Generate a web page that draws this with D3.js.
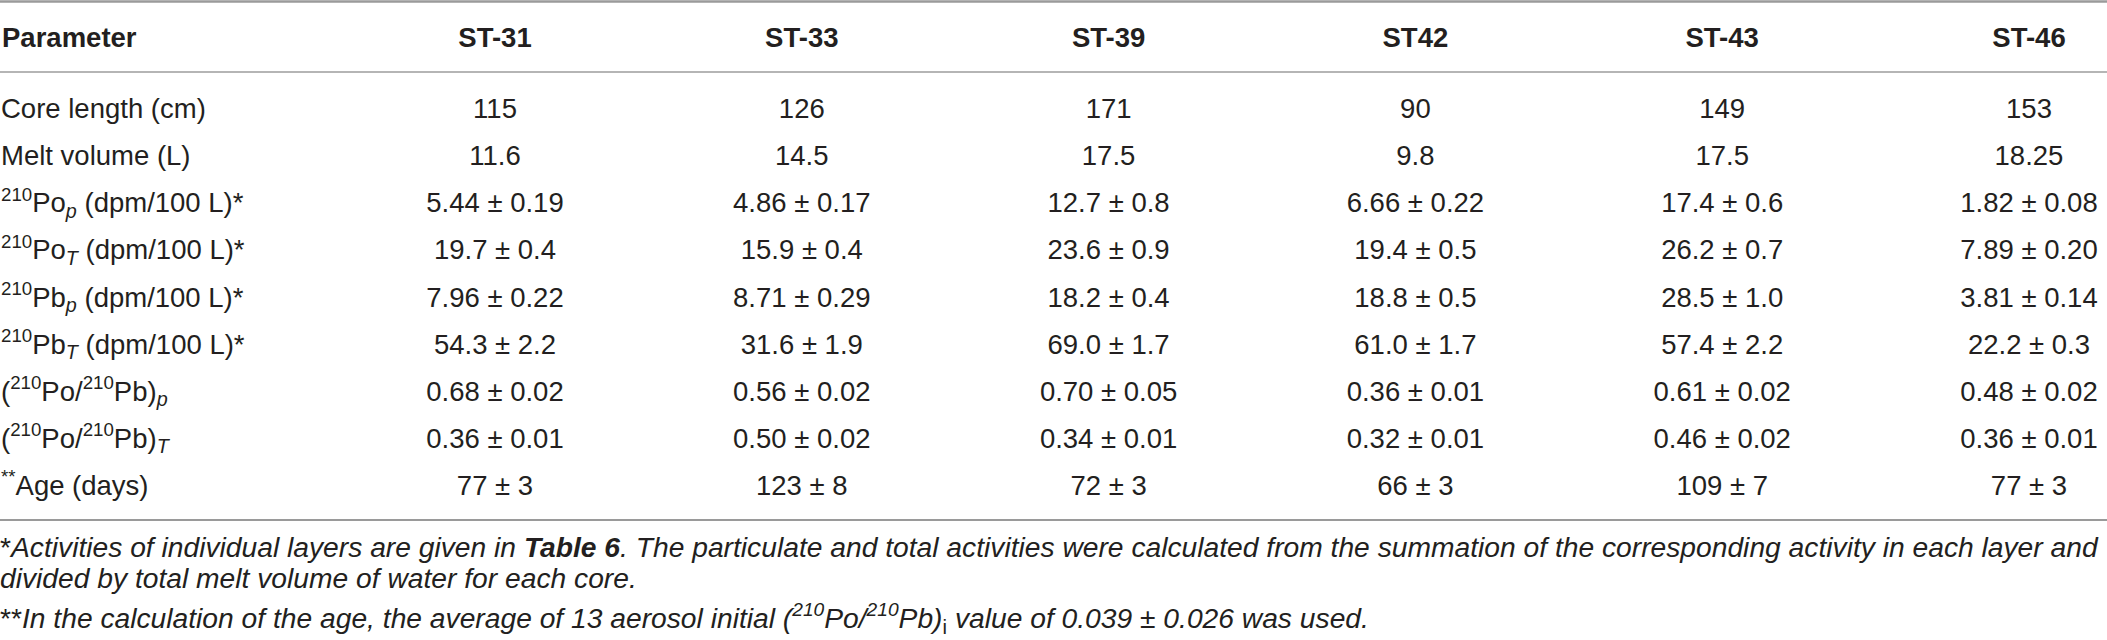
<!DOCTYPE html>
<html lang="en">
<head>
  <meta charset="UTF-8">
  <title>Table 5</title>
  <style>
    body { margin: 0; background: #fff; }
    svg text { font-family: "Liberation Sans", Arial, sans-serif; fill: #231f20; }
  </style>
</head>
<body>
  <svg id="svg" width="2107" height="640"></svg>
  <script src="https://d3js.org/d3.v7.min.js"></script>
  <script>
    // column headers
    const stations = ['ST-31', 'ST-33', 'ST-39', 'ST42', 'ST-43', 'ST-46']

    // row labels, as text pieces (sup / sub / italic)
    const rowLabels = [
      [{ t: 'Core length (cm)' }],
      [{ t: 'Melt volume (L)' }],
      [{ t: '210', s: 'sup' }, { t: 'Po' }, { t: 'p', s: 'sub', i: true }, { t: ' (dpm/100 L)*' }],
      [{ t: '210', s: 'sup' }, { t: 'Po' }, { t: 'T', s: 'sub', i: true }, { t: ' (dpm/100 L)*' }],
      [{ t: '210', s: 'sup' }, { t: 'Pb' }, { t: 'p', s: 'sub', i: true }, { t: ' (dpm/100 L)*' }],
      [{ t: '210', s: 'sup' }, { t: 'Pb' }, { t: 'T', s: 'sub', i: true }, { t: ' (dpm/100 L)*' }],
      [{ t: '(' }, { t: '210', s: 'sup' }, { t: 'Po/' }, { t: '210', s: 'sup' }, { t: 'Pb)' }, { t: 'p', s: 'sub', i: true }],
      [{ t: '(' }, { t: '210', s: 'sup' }, { t: 'Po/' }, { t: '210', s: 'sup' }, { t: 'Pb)' }, { t: 'T', s: 'sub', i: true }],
      [{ t: '**', s: 'sup' }, { t: 'Age (days)' }]
    ]

    // values per row, one per station
    const coreLength = ['115', '126', '171', '90', '149', '153']
    const meltVolume = ['11.6', '14.5', '17.5', '9.8', '17.5', '18.25']
    const poP = ['5.44 ± 0.19', '4.86 ± 0.17', '12.7 ± 0.8', '6.66 ± 0.22', '17.4 ± 0.6', '1.82 ± 0.08']
    const poT = ['19.7 ± 0.4', '15.9 ± 0.4', '23.6 ± 0.9', '19.4 ± 0.5', '26.2 ± 0.7', '7.89 ± 0.20']
    const pbP = ['7.96 ± 0.22', '8.71 ± 0.29', '18.2 ± 0.4', '18.8 ± 0.5', '28.5 ± 1.0', '3.81 ± 0.14']
    const pbT = ['54.3 ± 2.2', '31.6 ± 1.9', '69.0 ± 1.7', '61.0 ± 1.7', '57.4 ± 2.2', '22.2 ± 0.3']
    const ratioP = ['0.68 ± 0.02', '0.56 ± 0.02', '0.70 ± 0.05', '0.36 ± 0.01', '0.61 ± 0.02', '0.48 ± 0.02']
    const ratioT = ['0.36 ± 0.01', '0.50 ± 0.02', '0.34 ± 0.01', '0.32 ± 0.01', '0.46 ± 0.02', '0.36 ± 0.01']
    const age = ['77 ± 3', '123 ± 8', '72 ± 3', '66 ± 3', '109 ± 7', '77 ± 3']

    const rows = [coreLength, meltVolume, poP, poT, pbP, pbT, ratioP, ratioT, age]

    // footnotes
    const footnotes = [
      [{ t: '*', up: true }, { t: 'Activities of individual layers are given in ' }, { t: 'Table 6', b: true },
       { t: '. The particulate and total activities were calculated from the summation of the corresponding activity in each layer and' }],
      [{ t: 'divided by total melt volume of water for each core.' }],
      [{ t: '**', up: true }, { t: 'In the calculation of the age, the average of 13 aerosol initial (' }, { t: '210', s: 'sup' },
       { t: 'Po/' }, { t: '210', s: 'sup' }, { t: 'Pb)' }, { t: 'i', s: 'sub', up: true }, { t: ' value of 0.039 ± 0.026 was used.' }]
    ]

    const width = 2107
    const fs = 27.5
    const svg = d3.select('#svg')

    // column centres
    const xscale = d3.scalePoint()
      .domain(stations)
      .range([495, 2029])

    // row centres
    const yscale = d3.scalePoint()
      .domain(d3.range(rows.length))
      .range([110, 487])

    // write text pieces into a text element
    function pieces(sel, parts, size) {
      let shift = 0
      parts.forEach(p => {
        const ts = sel.append('tspan').text(p.t)
        let target = 0
        if (p.s === 'sup') { target = -0.42 * size; ts.attr('font-size', size * 0.68) }
        if (p.s === 'sub') { target = 0.2 * size; ts.attr('font-size', size * 0.72) }
        ts.attr('dy', target - shift)
        shift = target
        if (p.i) ts.attr('font-style', 'italic')
        if (p.up) ts.attr('font-style', 'normal')
        if (p.b) ts.attr('font-weight', 'bold')
      })
    }

    // rules
    const rules = [
      { y: 1.5, w: 2.5, c: '#9a9a9a' },
      { y: 72, w: 2, c: '#b5b5b5' },
      { y: 520, w: 2, c: '#9a9a9a' }
    ]
    svg.append('g').selectAll('line')
      .data(rules)
      .enter()
      .append('line')
      .attr('x1', 0)
      .attr('x2', width)
      .attr('y1', d => d.y)
      .attr('y2', d => d.y)
      .attr('stroke', d => d.c)
      .attr('stroke-width', d => d.w)

    // header
    const header = svg.append('g').attr('font-weight', 'bold').attr('font-size', fs)
    header.append('text')
      .attr('x', 2)
      .attr('y', 47)
      .text('Parameter')
    header.selectAll('text.st')
      .data(stations)
      .enter()
      .append('text')
      .attr('class', 'st')
      .attr('text-anchor', 'middle')
      .attr('x', d => xscale(d))
      .attr('y', 47)
      .text(d => d)

    // body
    const body = svg.append('g').attr('font-size', fs)
    rowLabels.forEach((lab, i) => {
      const t = body.append('text')
        .attr('x', 1)
        .attr('y', yscale(i) + 8)
      pieces(t, lab, fs)
    })

    rows.forEach((vals, i) => {
      body.append('g')
        .selectAll('text')
        .data(vals)
        .enter()
        .append('text')
        .attr('text-anchor', 'middle')
        .attr('x', (d, j) => xscale(stations[j]))
        .attr('y', yscale(i) + 8)
        .text(d => d)
    })

    // footnotes (baselines)
    const noteY = [557, 588, 628]
    const noteG = svg.append('g').attr('font-style', 'italic')
    const notes = footnotes.map((parts, i) => {
      const t = noteG.append('text')
        .attr('x', 0)
        .attr('y', noteY[i])
        .attr('font-size', fs)
      pieces(t, parts, fs)
      return t
    })
    // first line runs the full width: fit the font size to it
    const len = notes[0].node().getComputedTextLength()
    const nfs = fs * 2098 / len
    notes.forEach((t, i) => {
      t.attr('font-size', nfs)
      t.selectAll('tspan').remove()
      pieces(t, footnotes[i], nfs)
    })
  </script>
</body>
</html>
